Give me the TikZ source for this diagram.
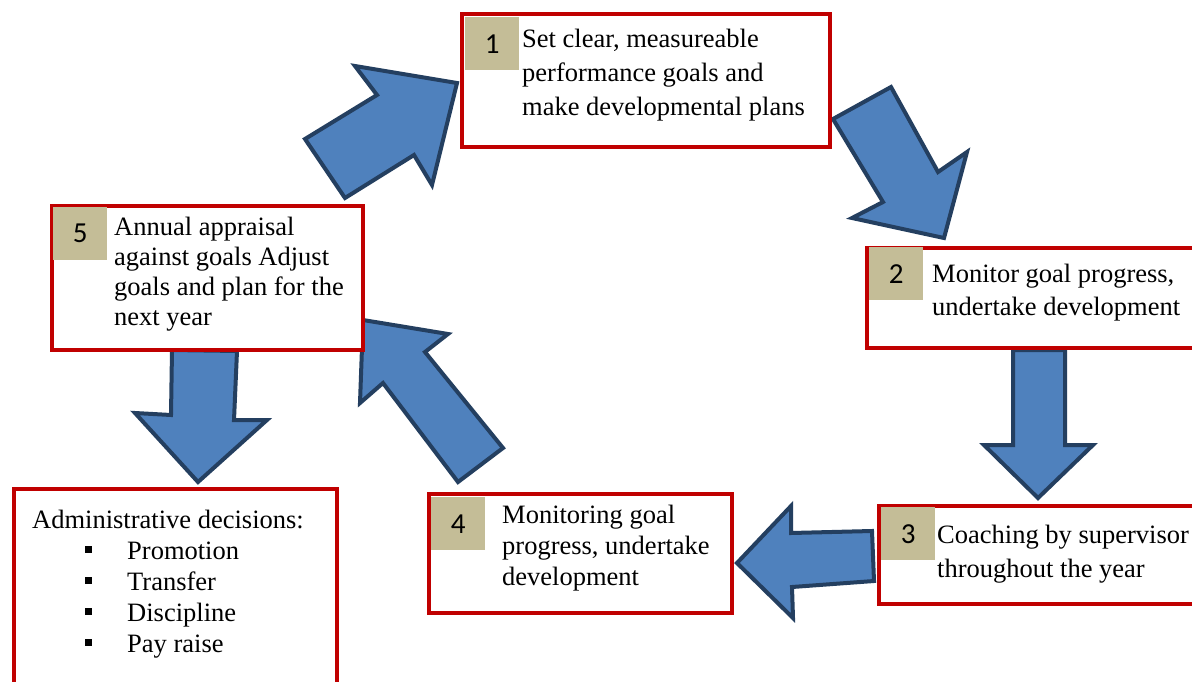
\documentclass[tikz,border=0pt]{standalone}
\usepackage{fontspec}
\setmainfont{Liberation Serif}
\newfontfamily\numfont{Carlito}
\usepackage{tikz}
\definecolor{boxred}{HTML}{C00000}
\definecolor{arrowblue}{HTML}{4F81BD}
\definecolor{arrowedge}{HTML}{243F60}
\definecolor{badgetan}{HTML}{C4BD97}
\newcommand{\sqbullet}{\hspace*{53pt}\makebox[42pt][l]{\rule[6pt]{7pt}{7pt}}}

\begin{document}
\begin{tikzpicture}[x=1pt,y=-1pt,
    stepbox/.style={draw=boxred,line width=4pt,fill=white,anchor=north west,inner sep=0pt},
    badge/.style={fill=badgetan,anchor=north west,minimum width=54pt,minimum height=53pt,inner sep=0pt,font=\numfont\fontsize{29}{29}\selectfont},
    steptext/.style={anchor=base west,align=left,inner sep=0pt,font=\fontsize{26.5}{#1}\selectfont},
    steptext/.default=32,
    blockarrow/.style={fill=arrowblue,draw=arrowedge,line width=4pt,line join=miter}]
    \clip (0,0) rectangle (1192,681);
    \fill[white] (0,0) rectangle (1192,681);
    % block arrows
    \draw[blockarrow] (305,139) -- (377,95) -- (355,66) -- (457,83) -- (432,185) -- (414,155) -- (345,198) -- cycle;
    \draw[blockarrow] (833,119) -- (891,87) -- (938,172) -- (967,152) -- (944,238) -- (852,218) -- (883,202) -- cycle;
    \draw[blockarrow] (1013,350) -- (1065,350) -- (1065,445) -- (1093,445) -- (1038,498) -- (984,445) -- (1013,445) -- cycle;
    \draw[blockarrow] (737,563) -- (791,506) -- (791,533) -- (872,531) -- (874,581) -- (792,587) -- (793,618) -- cycle;
    \draw[blockarrow] (363,320) -- (448,334) -- (425,352) -- (503,448) -- (458,482) -- (383,383) -- (360,403) -- cycle;
    \draw[blockarrow] (172,350) -- (237,351) -- (234,420) -- (267,420) -- (198,482) -- (135,413) -- (171,415) -- cycle;
    % boxes
    \node[stepbox,minimum width=368pt,minimum height=133pt] (s1) at (460,12) {};
    \node[stepbox,minimum width=327pt,minimum height=100pt] (s2) at (865,246) {};
    \node[stepbox,minimum width=315pt,minimum height=98pt] (s3) at (877,504) {};
    \node[stepbox,minimum width=303pt,minimum height=119pt] (s4) at (427,492) {};
    \node[stepbox,minimum width=311pt,minimum height=144pt] (s5) at (50,204) {};
    \node[stepbox,minimum width=323pt,minimum height=210pt] (adm) at (12,487) {};
    % number badges
    \node[badge] (n1) at (465,17) {1};
    \node[badge] (n2) at (869,247) {2};
    \node[badge] (n3) at (881,507) {3};
    \node[badge] (n4) at (431,497) {4};
    \node[badge] (n5) at (53,207) {5};
    % texts (anchored on the last baseline)
    \node[steptext=34] (t1) at (522,115) {Set clear, measureable\\performance goals and\\make developmental plans};
    \node[steptext=33] (t2) at (932,315) {Monitor goal progress,\\undertake development};
    \node[steptext=34] (t3) at (937,577) {Coaching by supervisor\\throughout the year};
    \node[steptext=31] (t4) at (502,585) {Monitoring goal\\progress, undertake\\development};
    \node[steptext=30] (t5) at (114,325) {Annual appraisal\\against goals Adjust\\goals and plan for the\\next year};
    \node[steptext=31] (tadm) at (32,652) {Administrative decisions:\\\sqbullet Promotion\\\sqbullet Transfer\\\sqbullet Discipline\\\sqbullet Pay raise};
\end{tikzpicture}
\end{document}
